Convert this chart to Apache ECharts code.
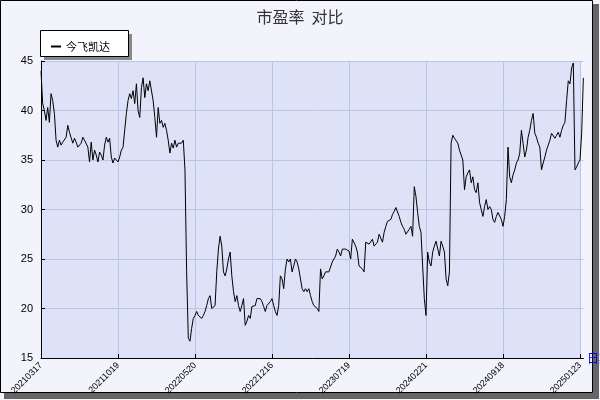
<!DOCTYPE html>
<html><head><meta charset="utf-8">
<script src="https://cdn.jsdelivr.net/npm/echarts@6/dist/echarts.min.js"></script>
<style>html,body{margin:0;padding:0;background:#fff}#c{width:600px;height:400px}</style>
</head><body><div id="c"></div>
<script>
const tickLabels = ['20210317','20211019','20220520','20221216','20230719','20240221','20240918','20250123'];
const seriesName = '今飞凯达';
const values = [
44,40.7,40,39,40.3,38.8,41.7,41,39.7,37,36.3,37,36.5,36.8,36.7,37.3,38.5,37.8,37.7,36.7,37.2,36.8,36.3,36.2,36.7,37.3,37,37.2,36.3,34.8,36.8,35,36,35.5,34.8,35.8,35.5,35,36.5,37.3,36.8,37.2,35.3,34.7,35.2,35,34.8,35.3,36,36.3,38,39.7,41,41.7,41.2,42,40.7,42.7,40,39.3,42.3,43.3,41.3,42.7,42,43,43,41,39.3,37.3,40.3,38.7,39,38.3,38.7,38,37,35.7,36.7,36.2,37,36.3,36.7,36.5,36.7,37,34,23.7,17,16.7,18,19,19.3,19.7,19.3,19.2,19,19.3,19.7,20.3,21,21.3,20,19.8,20.3,23.7,26,27.3,26.3,23.7,23.3,24,25,25.7,23.3,21.7,20.7,21.3,20.3,
19.7,20.3,21,18.3,18.7,19.3,19,20.2,20,20.3,21,21.2,21,20.7,20.2,19.7,20.3,20.2,20.7,21,20.3,19.7,19.3,20.3,23.3,23,22,24,25,24.7,25,23.7,24.3,25,24.7,24,23,22,21.7,22,21.7,22,21.3,20.7,20.3,20.2,20,19.7,24,23,23.3,23.7,23.8,23.7,23.5,24.7,25,25.3,26,25.7,25.3,26,26.2,26,26.2,25.8,25,27,26.8,26.3,25.7,24.3,24.2,24,23.7,26.7,26.8,26.5,26.7,27,26.3,26.2,26.7,27.5,27.3,26.7,27.7,28.3,28.8,28.7,29,29.5,29.8,30.2,30.3,29.3,28.7,28.3,28,27.5,27.3,28,28.3,27.3,32.3,31.3,29.7,28.3,27.7,24.3,21,19.3,25.7,24.7,24.3,
25.7,26.3,26.8,26.7,25.3,26.8,26.3,25.7,23,22.3,23.7,36.7,37.5,37.2,37,36.7,36,35.8,35,32,33.3,33.7,34,32.7,33.3,32,31.7,32.7,30.7,30,29.3,30.3,31,30,30.3,30,29,28.7,29.3,29.7,29.7,29,28.3,29.3,31,36.3,33.3,32.7,33.5,34,34.7,35,35.7,38,36.7,35.3,36,37.3,38,39,39.7,37.7,37.3,36.7,36.3,34,34.7,35.3,36,36.5,37,37.7,37.8,37.2,37.5,37.8,37.3,38,38.5,38.8,41,43,42.7,44.3,44.8,34,34.3,34.7,35,37.7,43.3
];
const step = 46;
const categories = values.map((v,i)=> i%step===0 ? tickLabels[i/step] : '');
const chart = echarts.init(document.getElementById('c'));
const plotRight = 41 + (values.length-1)*77/step;
chart.setOption({
  backgroundColor:'#f2f3fb',
  animation:false,
  graphic:[
    {type:'rect',shape:{x:4,y:4,width:595,height:395},style:{fill:'#666'},z:-10},
    {type:'rect',shape:{x:0.5,y:0.5,width:592,height:392},style:{fill:'#f2f3fb',stroke:'#000',lineWidth:1},z:-9},
    {type:'rect',shape:{x:44,y:34,width:88,height:26},style:{fill:'#888'},z:5},
    {type:'rect',shape:{x:40.5,y:30.5,width:88,height:26},style:{fill:'#fff',stroke:'#000',lineWidth:1},z:6},
    {type:'rect',shape:{x:41,y:61,width:540,height:297},style:{fill:'#dde2f7'},z:-5}
  ],
  title:{text:'市盈率  对比',left:'center',top:4,textStyle:{fontSize:16,fontWeight:'normal',color:'#333',fontFamily:'Noto Sans CJK SC'}},
  legend:{left:46,top:36,itemWidth:10,itemHeight:2,icon:'rect',z:10,textStyle:{fontSize:11,color:'#000',fontFamily:'Noto Sans CJK SC'},data:[seriesName]},
  grid:{left:41,right:600-plotRight,top:61,bottom:42,outerBoundsMode:'none',containLabel:false},
  xAxis:{type:'category',data:categories,boundaryGap:false,name:'日期',nameLocation:'end',nameGap:-20,
    nameTextStyle:{color:'#00f',fontSize:12,padding:[42,0,0,0],fontFamily:'Noto Sans CJK SC'},
    axisLine:{lineStyle:{color:'#000'}},
    axisTick:{interval:i=>i%step===0,length:4,inside:true,lineStyle:{color:'#000'}},
    axisLabel:{interval:i=>i%step===0,rotate:45,fontSize:9,color:'#000',margin:6},
    splitLine:{show:true,interval:i=>i%step===0,lineStyle:{color:'#b9c4e9'}}},
  yAxis:{type:'value',min:15,max:45,interval:5,
    axisLine:{show:true,lineStyle:{color:'#000'}},axisTick:{show:true,inside:true,length:4},
    axisLabel:{fontSize:11,color:'#000',margin:8},
    splitLine:{lineStyle:{color:'#b9c4e9'}}},
  series:[{name:seriesName,type:'line',data:values,showSymbol:false,lineStyle:{color:'#000',width:1},itemStyle:{color:'#000'}}]
});
</script></body></html>
